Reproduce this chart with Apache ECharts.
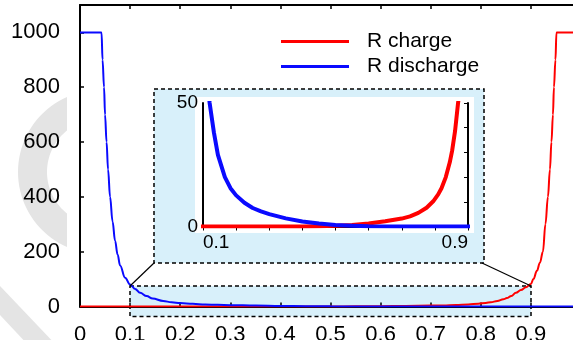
<!DOCTYPE html>
<html><head><meta charset="utf-8">
<script src="https://cdn.jsdelivr.net/npm/echarts@6/dist/echarts.min.js"></script>
<style>html,body{margin:0;padding:0;background:#fff}#c{width:573px;height:347px}</style>
</head><body><div id="c"></div>
<script>
// ---- data ----
const chargeX = [0, 0.4, 0.45, 0.5, 0.55, 0.6, 0.65, 0.7, 0.725, 0.75, 0.775, 0.795, 0.81, 0.82, 0.833, 0.845, 0.852, 0.861, 0.87, 0.88, 0.89, 0.9, 0.905, 0.912, 0.918, 0.924, 0.929, 0.934, 0.938, 0.941, 0.944, 0.946, 0.949, 0.951, 1.0];
const chargeY = [0, 0, 0.1, 0.3, 0.6, 1.2, 2.1, 3.2, 4.1, 5.5, 7.6, 10.2, 13, 15.5, 20, 26, 30.6, 38.7, 50, 60, 70, 82, 100, 130, 160, 200, 300, 400, 500, 600, 700, 800, 900, 1000, 1000];
const dischargeX = [0, 0.043, 0.045, 0.048, 0.05, 0.053, 0.056, 0.06, 0.065, 0.07, 0.075, 0.08, 0.09, 0.1, 0.11, 0.12, 0.133, 0.145, 0.166, 0.183, 0.2, 0.225, 0.25, 0.275, 0.3, 0.35, 0.4, 0.45, 0.5, 0.55, 0.6, 0.7, 1.0];
const dischargeY = [1000, 1000, 900, 800, 700, 600, 500, 400, 310, 240, 190, 150, 105, 80, 64, 50, 38, 29, 20, 15.5, 12.6, 9.6, 7.5, 6.1, 5.0, 3.3, 2.0, 1.2, 0.6, 0.3, 0.1, 0, 0];
const seriesNames = ['R charge', 'R discharge'];
const mainYMax = 1100;
const insetYMax = 50;

const chargeData = chargeX.map((x, i) => [x, chargeY[i]]);
const dischargeData = dischargeX.map((x, i) => [x, dischargeY[i]]);

const FONT = 'Liberation Sans, Arial, sans-serif';
const RED = '#ff0000', BLUE = '#0a0aff';
const LIGHT = '#d8f0fa', GRAY = '#e4e4e4';

function near(a, b) { return Math.abs(a - b) < 1e-6; }
function fmtMainX(v) { if (near(v, 0)) return '0'; if (v > 0.95) return ''; return v.toFixed(1); }

// watermark ring (decoration)
function ringPoints() {
  const cx = 100, cy = 172, R = 82, r0 = 53, cutX = 67;
  const dx = cutX - cx;
  const aO = Math.acos(dx / R), aI = Math.acos(dx / r0);
  const pts = [];
  for (let i = 0; i <= 40; i++) {
    const a = (2 * Math.PI - aO) - i / 40 * (2 * Math.PI - 2 * aO);
    pts.push([cx + R * Math.cos(a), cy + R * Math.sin(a)]);
  }
  for (let i = 0; i <= 40; i++) {
    const a = aI + i / 40 * (2 * Math.PI - 2 * aI);
    pts.push([cx + r0 * Math.cos(a), cy + r0 * Math.sin(a)]);
  }
  return pts;
}

const chart = echarts.init(document.getElementById('c'), null, {renderer: 'canvas'});
const axisLine = {show: true, lineStyle: {color: '#000', width: 2}};
const lineMain = {type: 'line', showSymbol: false, symbol: 'none', smooth: 0.4, smoothMonotone: 'x'};
const lineInset = {type: 'line', showSymbol: false, symbol: 'none', smooth: false};
const option = {
  animation: false,
  backgroundColor: '#fff',
  textStyle: {fontFamily: FONT},
  grid: [
    {left: 80, top: 5, width: 501, bottom: 40.5, containLabel: false, outerBoundsMode: 'none'},
    {left: 203, top: 103, right: 105, bottom: 120.5, containLabel: false, outerBoundsMode: 'none'}
  ],
  legend: {
    orient: 'vertical', left: 281, top: 31, itemGap: 4, padding: 0,
    icon: 'rect', itemWidth: 68, itemHeight: 3,
    data: seriesNames,
    textStyle: {fontSize: 21, color: '#000', fontFamily: FONT, lineHeight: 21, padding: [0, 0, 0, 13]}
  },
  xAxis: [
    {gridIndex: 0, type: 'value', min: 0, max: 1, interval: 0.1,
     axisLine: axisLine, splitLine: {show: false},
     axisTick: {inside: true, length: 4, lineStyle: {color: '#000', width: 1.5}},
     axisLabel: {fontSize: 22, color: '#000', margin: 17, fontFamily: FONT, formatter: fmtMainX}},
    {gridIndex: 0, type: 'value', position: 'top', min: 0, max: 1, interval: 0.1,
     axisLine: axisLine, splitLine: {show: false},
     axisTick: {inside: true, length: 4, lineStyle: {color: '#000', width: 1.5}},
     axisLabel: {show: false}},
    {gridIndex: 1, type: 'value', min: 0.1, max: 0.9, interval: 0.1,
     axisLine: axisLine, splitLine: {show: false}, axisTick: {show: false},
     axisLabel: {fontSize: 19, color: '#000', margin: 7, fontFamily: FONT,
       alignMinLabel: 'left', alignMaxLabel: 'right', showMinLabel: true, showMaxLabel: true,
       formatter: v => (near(v, 0.1) ? '0.1' : near(v, 0.9) ? '0.9' : '')}},
    {gridIndex: 1, type: 'value', position: 'top', min: 0.1, max: 0.9, interval: 0.1,
     axisLine: axisLine, splitLine: {show: false},
     axisTick: {inside: true, length: 4, lineStyle: {color: '#000', width: 1}},
     axisLabel: {show: false}}
  ],
  yAxis: [
    {gridIndex: 0, type: 'value', min: 0, max: mainYMax, interval: 200,
     axisLine: axisLine, splitLine: {show: false},
     axisTick: {inside: true, length: 4, lineStyle: {color: '#000', width: 1.5}},
     axisLabel: {fontSize: 22, color: '#000', margin: 20, fontFamily: FONT,
       formatter: v => (v > 1000 ? '' : String(v))}},
    {gridIndex: 1, type: 'value', min: 0, max: insetYMax, interval: 10,
     axisLine: axisLine, splitLine: {show: false}, axisTick: {show: false},
     axisLabel: {fontSize: 19, color: '#000', margin: 5, fontFamily: FONT,
       formatter: v => (v === 0 || v === 50 ? String(v) : '')}},
    {gridIndex: 1, type: 'value', position: 'right', min: 0, max: insetYMax, interval: 10,
     axisLine: axisLine, splitLine: {show: false},
     axisTick: {inside: true, length: 4, lineStyle: {color: '#000', width: 1}},
     axisLabel: {show: false}}
  ],
  series: [
    Object.assign({}, lineMain, {name: seriesNames[0], xAxisIndex: 0, yAxisIndex: 0, data: chargeData,
     lineStyle: {color: RED, width: 2}, itemStyle: {color: RED}, z: 3}),
    Object.assign({}, lineMain, {name: seriesNames[1], xAxisIndex: 0, yAxisIndex: 0, data: dischargeData,
     lineStyle: {color: BLUE, width: 2}, itemStyle: {color: BLUE}, z: 4}),
    Object.assign({}, lineInset, {name: seriesNames[0], xAxisIndex: 2, yAxisIndex: 1, data: chargeData, clip: true,
     lineStyle: {color: RED, width: 4, join: 'round', cap: 'round'}, itemStyle: {color: RED}, z: 5}),
    Object.assign({}, lineInset, {name: seriesNames[1], xAxisIndex: 2, yAxisIndex: 1, data: dischargeData, clip: true,
     lineStyle: {color: BLUE, width: 4, join: 'round', cap: 'round'}, itemStyle: {color: BLUE}, z: 6})
  ],
  graphic: [
    {type: 'polygon', z: -5, silent: true, shape: {points: ringPoints()}, style: {fill: GRAY}},
    {type: 'polygon', z: -5, silent: true, shape: {points: [[0, 286], [58, 347], [30, 347], [0, 315]]}, style: {fill: GRAY}},
    // inset background
    {type: 'rect', z: -4, silent: true, shape: {x: 154, y: 89, width: 330, height: 174},
     style: {fill: LIGHT, stroke: '#000', lineWidth: 1.5, lineDash: [4, 3]}},
    {type: 'rect', z: -3, silent: true, shape: {x: 195, y: 97, width: 279, height: 136}, style: {fill: '#fff'}},
    // zoom region in main plot
    {type: 'rect', z: -4, silent: true, shape: {x: 130, y: 286, width: 401, height: 30.5},
     style: {fill: LIGHT, stroke: '#000', lineWidth: 1.5, lineDash: [4, 3]}},
    // connectors
    {type: 'line', z: 50, silent: true, shape: {x1: 130, y1: 286, x2: 154, y2: 263}, style: {stroke: '#000', lineWidth: 1.2}},
    {type: 'line', z: 50, silent: true, shape: {x1: 482, y1: 263, x2: 531, y2: 286}, style: {stroke: '#000', lineWidth: 1.2}},
    // cropped bottom edge of the figure
    {type: 'rect', z: 100, silent: true, shape: {x: 0, y: 340, width: 573, height: 7}, style: {fill: '#fff'}}
  ]
};
chart.setOption(option);
</script>
</body></html>
